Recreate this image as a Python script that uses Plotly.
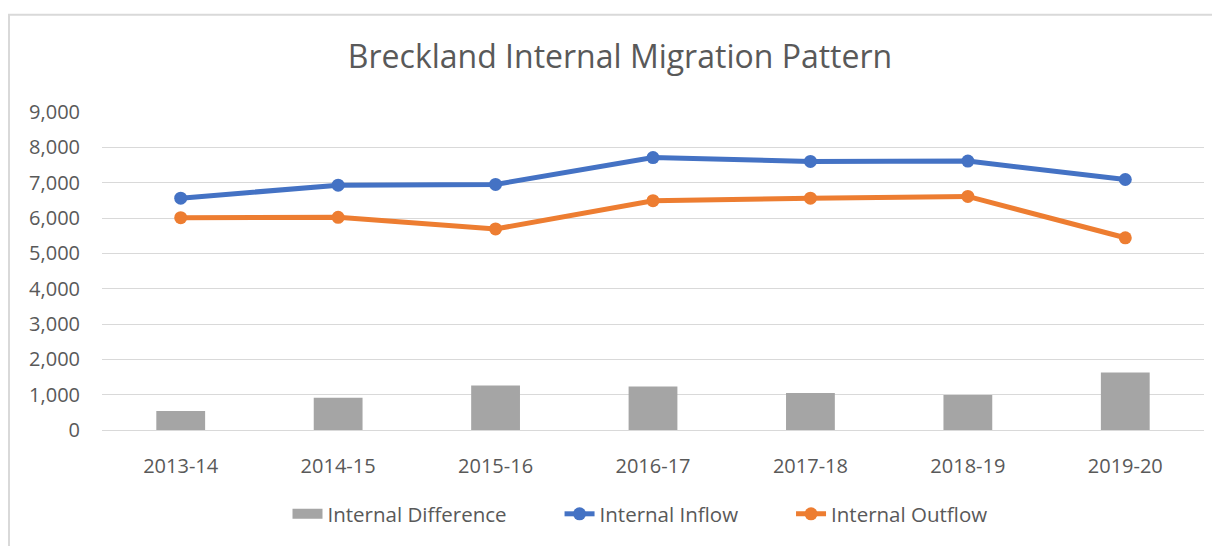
import plotly.graph_objects as go

categories = ["2013-14", "2014-15", "2015-16", "2016-17", "2017-18", "2018-19", "2019-20"]
internal_difference = [540, 910, 1260, 1230, 1050, 990, 1630]
internal_inflow = [6560, 6930, 6950, 7710, 7600, 7610, 7090]
internal_outflow = [6010, 6020, 5690, 6490, 6560, 6610, 5440]
y_ticks = list(range(0, 9001, 1000))

FONT = "Open Sans"
TXT = "#595959"
GRAY = "#A5A5A5"
PAD = "\u00a0" * 9  # extra spacing between legend entries

W, H = 1212, 538  # page body has an 8px margin
L, R, T, B = 94, 16, 103.5, 111.5
PH = H - T - B
PW = W - L - R

fig = go.Figure()
fig.add_trace(go.Bar(x=categories, y=internal_difference, name="Internal Difference",
                     marker=dict(color=GRAY, line=dict(width=0)), width=0.31,
                     showlegend=False))
# legend proxy for the bar series (wide swatch as in the reference)
fig.add_trace(go.Scatter(x=[None], y=[None], name="Internal Difference" + PAD, mode="lines",
                         line=dict(color=GRAY, width=12), hoverinfo="skip"))
fig.add_trace(go.Scatter(x=categories, y=internal_inflow, name="Internal Inflow" + PAD,
                         mode="lines+markers", line=dict(color="#4472C4", width=5),
                         marker=dict(size=13, color="#4472C4")))
fig.add_trace(go.Scatter(x=categories, y=internal_outflow, name="Internal Outflow",
                         mode="lines+markers", line=dict(color="#ED7D31", width=5),
                         marker=dict(size=13, color="#ED7D31")))

fig.update_layout(
    width=W, height=H,
    margin=dict(l=L, r=R, t=T, b=B),
    paper_bgcolor="white", plot_bgcolor="white",
    font=dict(family=FONT, color=TXT, size=20),
    title=dict(text="Breckland Internal Migration Pattern", x=(620 - 8) / W, xanchor="center",
               y=1 - (57 - 8) / H, yanchor="middle", yref="container",
               font=dict(family=FONT, size=32, color=TXT)),
    showlegend=True,
    legend=dict(orientation="h", x=(640 - 102) / PW, xanchor="center",
                y=-(517 - 431.7) / PH, yanchor="middle",
                font=dict(family=FONT, size=20.5, color=TXT), traceorder="normal"),
    bargap=0.69,
)
fig.update_xaxes(showgrid=False, showline=False, zeroline=False, ticks="",
                 tickfont=dict(family=FONT, size=20, color=TXT), ticklabelstandoff=22)
fig.update_yaxes(range=[0, 9000], tickvals=y_ticks, tickformat=",d",
                 showgrid=True, gridcolor="#D9D9D9", gridwidth=1.3,
                 zeroline=True, zerolinecolor="#D9D9D9", zerolinewidth=1.3,
                 showline=False, ticks="", ticklabelstandoff=21,
                 tickfont=dict(family=FONT, size=20, color=TXT))

fig.add_shape(type="rect", xref="paper", yref="paper",
              x0=-(102 - 9) / PW, x1=1.2, y0=-1.0, y1=1 + (110.7 - 12) / PH,
              line=dict(color="#D9D9D9", width=2), fillcolor="rgba(0,0,0,0)", layer="below")

fig.write_html("out.html")
